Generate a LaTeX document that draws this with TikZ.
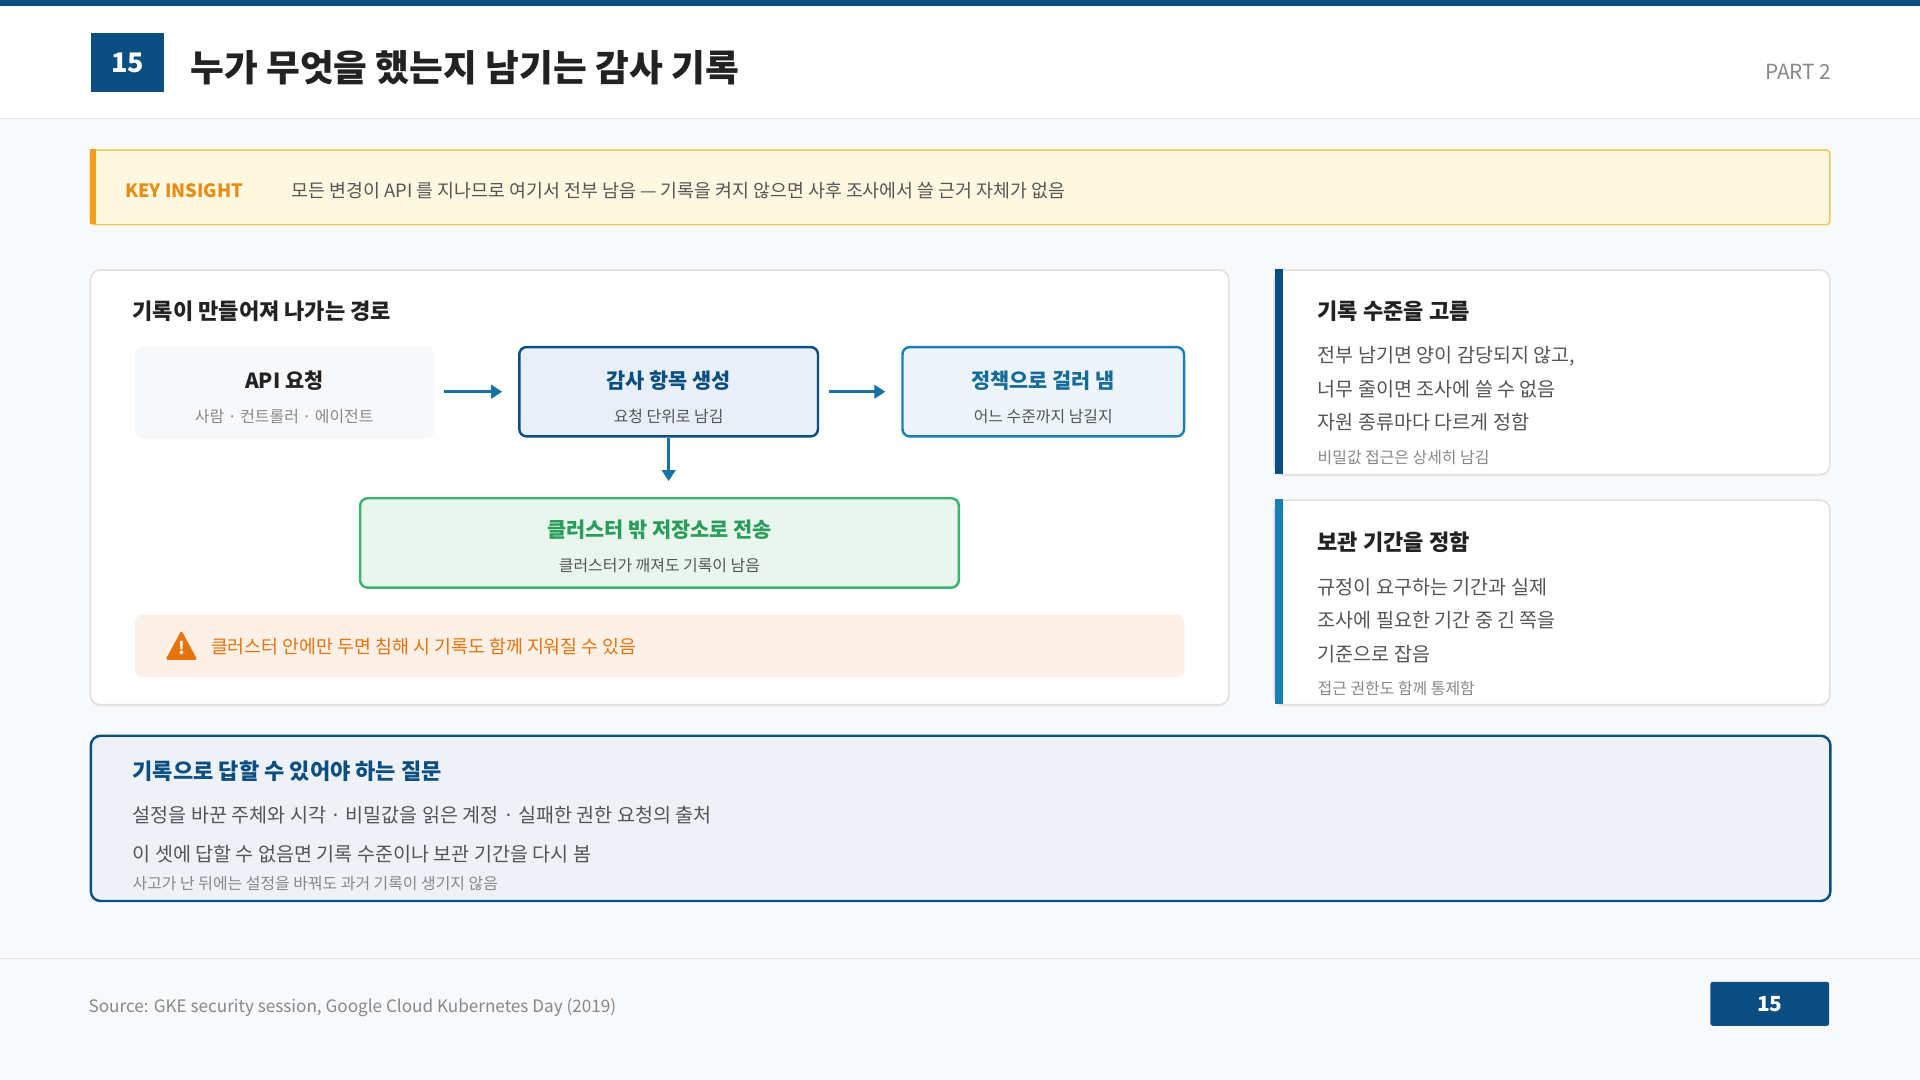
\documentclass[tikz,border=0pt]{standalone}
\usepackage{fontspec}
\setmainfont{Noto Sans CJK KR}
\usetikzlibrary{arrows.meta,shadows}
\definecolor{navy}{HTML}{0B4F82}
\definecolor{blue2}{HTML}{1A7FB3}
\definecolor{txt}{HTML}{222222}
\definecolor{gr}{HTML}{555555}
\definecolor{lg}{HTML}{888888}
\definecolor{grn}{HTML}{2A9D5A}
\definecolor{org}{HTML}{E8730C}
\definecolor{bg}{HTML}{F7F9FB}
\definecolor{kiborder}{HTML}{F0C85A}
\definecolor{kifill}{HTML}{FFF8E1}
\definecolor{kibar}{HTML}{F0A01E}
\definecolor{kitxt}{HTML}{E88C14}
\definecolor{apifill}{HTML}{F7F8FA}
\definecolor{audfill}{HTML}{E9EFF6}
\definecolor{polfill}{HTML}{EEF5FA}
\definecolor{gborder}{HTML}{3CB371}
\definecolor{gfill}{HTML}{E8F6EE}
\definecolor{wfill}{HTML}{FDF0E6}
\definecolor{bqfill}{HTML}{EEF2F6}
\newcommand{\fs}[1]{\fontsize{#1}{#1}\selectfont}
\tikzset{
  panel/.style={draw=black!12,line width=1.2pt,fill=white,rounded corners=8pt,drop shadow={shadow xshift=0pt,shadow yshift=-1.5pt,opacity=0.12}},
  flow/.style={-{Triangle[length=9pt,width=11pt]},line width=2.5pt,draw=blue2!90!black},
  t/.style={anchor=west,inner sep=0pt},
}
\begin{document}
\begin{tikzpicture}[x=1pt,y=-1pt]
\fill[bg] (0,0) rectangle (1568,882);
\fill[white] (0,0) rectangle (1568,97);
\fill[navy] (0,0) rectangle (1568,5);
\draw[black!10] (0,97) -- (1568,97);
\node[fill=navy,minimum width=60pt,minimum height=48pt,text=white,font=\fs{22}\bfseries] (num) at (104,51) {15};
\node[t,text=txt,font=\fs{30}\bfseries] (title) at (155,55) {누가 무엇을 했는지 남기는 감사 기록};
\node[anchor=east,inner sep=0pt,text=lg,font=\fs{17}] (part) at (1496,59) {PART 2};
% key insight
\node[draw=kiborder,fill=kifill,line width=1.2pt,rounded corners=3pt,minimum width=1421pt,minimum height=61pt,anchor=north west] (ki) at (73,122) {};
\fill[kibar] (73,122) rectangle (78,183);
\node[t,text=kitxt,font=\fs{15}\bfseries] (kil) at (102,156) {KEY INSIGHT};
\node[t,text=gr,font=\fs{15}] (kit) at (238,156) {모든 변경이 API 를 지나므로 여기서 전부 남음 — 기록을 켜지 않으면 사후 조사에서 쓸 근거 자체가 없음};
% left panel
\node[panel,minimum width=930pt,minimum height=355pt,anchor=north west] (lp) at (73,220) {};
\node[t,text=txt,font=\fs{18}\bfseries] (lpt) at (108,254) {기록이 만들어져 나가는 경로};
\node[fill=apifill,rounded corners=6pt,minimum width=244pt,minimum height=74pt,drop shadow={shadow xshift=0pt,shadow yshift=-1pt,opacity=0.08}] (api) at (232,320) {};
\node[text=txt,font=\fs{17}\bfseries] at (232,311) {API 요청};
\node[text=lg,font=\fs{13}] at (232,340) {사람 · 컨트롤러 · 에이전트};
\node[draw=navy,line width=2pt,fill=audfill,rounded corners=6pt,minimum width=244pt,minimum height=73pt] (aud) at (546,320) {};
\node[text=navy,font=\fs{17}\bfseries] at (546,311) {감사 항목 생성};
\node[text=gr,font=\fs{13}] at (546,340) {요청 단위로 남김};
\node[draw=blue2,line width=2pt,fill=polfill,rounded corners=6pt,minimum width=230pt,minimum height=73pt] (pol) at (852,320) {};
\node[text=blue2!85!black,font=\fs{17}\bfseries] at (852,311) {정책으로 걸러 냄};
\node[text=gr,font=\fs{13}] at (852,340) {어느 수준까지 남길지};
\node[draw=gborder,line width=2pt,fill=gfill,rounded corners=6pt,minimum width=489pt,minimum height=73pt] (ext) at (538.5,443.5) {};
\node[text=grn,font=\fs{17}\bfseries] at (538.5,433) {클러스터 밖 저장소로 전송};
\node[text=gr,font=\fs{13}] at (538.5,462) {클러스터가 깨져도 기록이 남음};
\draw[flow] ([xshift=8pt]api.east) -- ([xshift=-13pt]aud.west);
\draw[flow] ([xshift=8pt]aud.east) -- ([xshift=-13pt]pol.west);
\draw[flow] (aud.south) -- (546,393);
\node[fill=wfill,rounded corners=6pt,minimum width=857pt,minimum height=51pt,anchor=north west] (warn) at (110,502) {};
\fill[org,rounded corners=1.5pt] (148,515) -- (161,539) -- (135,539) -- cycle;
\node[text=white,font=\fs{14}\bfseries] at (148,529) {!};
\node[t,text=org,font=\fs{15}] at (172,528) {클러스터 안에만 두면 침해 시 기록도 함께 지워질 수 있음};
% right panels
\node[panel,minimum width=454pt,minimum height=167pt,anchor=north west] (r1) at (1040,220) {};
\fill[navy] (1041,220) rectangle (1048,387);
\node[t,text=txt,font=\fs{18}\bfseries] at (1076,254) {기록 수준을 고름};
\node[t,text=gr,font=\fs{16}] at (1076,291) {전부 남기면 양이 감당되지 않고,};
\node[t,text=gr,font=\fs{16}] at (1076,318) {너무 줄이면 조사에 쓸 수 없음};
\node[t,text=gr,font=\fs{16}] at (1076,345) {자원 종류마다 다르게 정함};
\node[t,text=lg,font=\fs{13}] at (1076,374) {비밀값 접근은 상세히 남김};
\node[panel,minimum width=454pt,minimum height=167pt,anchor=north west] (r2) at (1040,408) {};
\fill[blue2] (1041,408) rectangle (1048,575);
\node[t,text=txt,font=\fs{18}\bfseries] at (1076,443) {보관 기간을 정함};
\node[t,text=gr,font=\fs{16}] at (1076,480) {규정이 요구하는 기간과 실제};
\node[t,text=gr,font=\fs{16}] at (1076,507) {조사에 필요한 기간 중 긴 쪽을};
\node[t,text=gr,font=\fs{16}] at (1076,534) {기준으로 잡음};
\node[t,text=lg,font=\fs{13}] at (1076,562) {접근 권한도 함께 통제함};
% bottom
\node[draw=navy,line width=2pt,fill=bqfill,rounded corners=8pt,minimum width=1421pt,minimum height=135pt,anchor=north west] (bq) at (73,600) {};
\node[t,text=navy,font=\fs{18}\bfseries] at (108,630) {기록으로 답할 수 있어야 하는 질문};
\node[t,text=gr,font=\fs{16}] at (108,666) {설정을 바꾼 주체와 시각 · 비밀값을 읽은 계정 · 실패한 권한 요청의 출처};
\node[t,text=gr,font=\fs{16}] at (108,698) {이 셋에 답할 수 없음면 기록 수준이나 보관 기간을 다시 봄};
\node[t,text=lg,font=\fs{13}] at (108,722) {사고가 난 뒤에는 설정을 바꿔도 과거 기록이 생기지 않음};
% footer
\draw[black!10] (0,783) -- (1568,783);
\node[t,text=lg,font=\fs{14}] at (72,823) {Source: GKE security session, Google Cloud Kubernetes Day (2019)};
\node[fill=navy,rounded corners=2pt,minimum width=97pt,minimum height=36pt,text=white,font=\fs{17}\bfseries] (pg) at (1445.5,820) {15};
\end{tikzpicture}
\end{document}
